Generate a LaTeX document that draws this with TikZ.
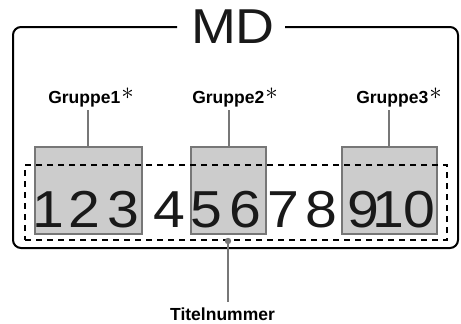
\documentclass[tikz,border=0pt]{standalone}
\usepackage{fontspec}
\setmainfont{Liberation Sans}
\definecolor{boxgray}{HTML}{CCCCCC}
\definecolor{edgegray}{HTML}{777777}
\newcommand{\grpast}{\kern1pt{\fontsize{26}{26}\selectfont\raisebox{4pt}{\mdseries$\ast$}}}
\begin{document}
\begin{tikzpicture}[x=1pt,y=-1pt,
  grpbox/.style={draw=edgegray,fill=boxgray,line width=2pt,inner sep=0pt,minimum height=87pt},
  digit/.style={inner sep=0pt,anchor=base,xscale=1.1,font=\fontsize{52}{52}\selectfont,text=black!90},
  grplabel/.style={inner sep=0pt,anchor=base,font=\fontsize{17.5}{18}\selectfont\bfseries},
  lead/.style={draw=edgegray,line width=2pt},
  frame/.style={draw=black,line width=2pt,rounded corners=8pt}]
\useasboundingbox (0,0) rectangle (461,324);
% outer frame with title gap
\node[inner sep=0pt,anchor=base,xscale=1.1,font=\fontsize{49}{49}\selectfont,text=black!90] (md) at (233,43) {MD};
\coordinate (fl) at (177,27);
\coordinate (fr) at (285,27);
\draw[frame] (fl) -- (13,27) -- (13,248) -- (458,248) -- (458,27) -- (fr);
% group boxes
\node[grpbox,minimum width=107pt] (box1) at (88.5,190.5) {};
\node[grpbox,minimum width=75pt] (box2) at (228.5,190.5) {};
\node[grpbox,minimum width=95pt] (box3) at (389.5,190.5) {};
% digits
\node[digit] (d1) at (48,227) {1};
\node[digit] (d2) at (84,227) {2};
\node[digit] (d3) at (123,227) {3};
\node[digit] (d4) at (169,227) {4};
\node[digit] (d5) at (206.5,227) {5};
\node[digit] (d6) at (245,227) {6};
\node[digit] (d7) at (283.5,227) {7};
\node[digit] (d8) at (321.5,227) {8};
\node[digit] (d9) at (363.5,227) {9};
\node[digit] (d10) at (404,227) {10};
% dashed range
\node[draw=black,line width=1.5pt,dash pattern=on 6pt off 5pt,inner sep=0pt,minimum width=422pt,minimum height=75pt] (range) at (236,202.5) {};
% group labels
\node[grplabel] (g1) at (91,103) {Gruppe1\grpast};
\node[grplabel] (g2) at (235,103) {Gruppe2\grpast};
\node[grplabel] (g3) at (399,103) {Gruppe3\grpast};
\coordinate (c1) at (88,110);
\coordinate (c2) at (229,110);
\coordinate (c3) at (389,110);
\draw[lead] (c1) -- (c1 |- box1.north);
\draw[lead] (c2) -- (c2 |- box2.north);
\draw[lead] (c3) -- (c3 |- box3.north);
% Titelnummer
\node[grplabel] (tn) at (222.5,320.5) {Titelnummer};
\coordinate (dot) at (228,241);
\coordinate (tnt) at (228,302);
\draw[lead] (dot) -- (tnt);
\fill[edgegray] (dot) circle (3.2pt);
\end{tikzpicture}
\end{document}
